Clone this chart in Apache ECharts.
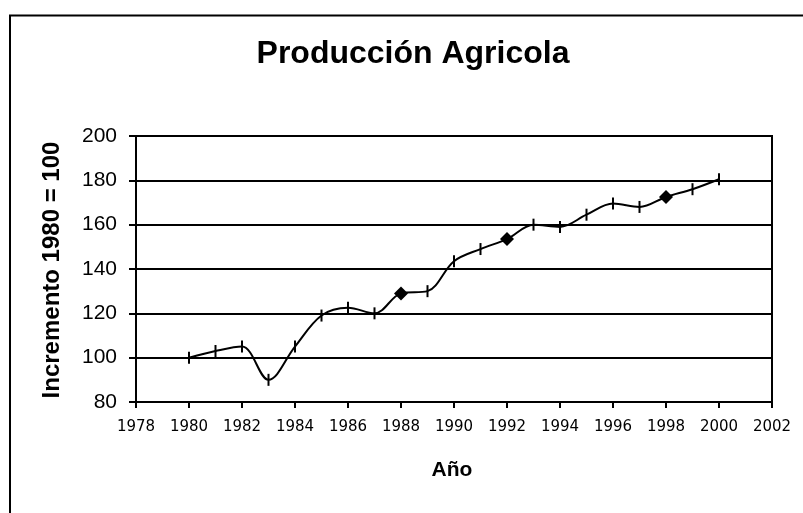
<!DOCTYPE html>
<html>
<head>
<meta charset="utf-8">
<script src="https://cdn.jsdelivr.net/npm/echarts@6/dist/echarts.min.js"></script>
<style>
html,body{margin:0;padding:0;background:#fff;}
#c{width:803px;height:513px;}
</style>
</head>
<body>
<div id="c"></div>
<script>
const years = [1980,1981,1982,1983,1984,1985,1986,1987,1988,1989,1990,1991,1992,1993,1994,1995,1996,1997,1998,1999,2000];
const values = [100,103,105,90,105,119,122.5,120,129,130,143.5,149,153.5,160,159,164.5,169.5,168,172.5,176,180.5];
const diamondYears = [1988,1992,1998];
const titleText = 'Producción Agricola';
const yTitle = 'Incremento 1980 = 100';
const xTitle = 'Año';

const chart = echarts.init(document.getElementById('c'), null, {renderer:'canvas'});
const data = years.map((y,i) => {
  const isD = diamondYears.indexOf(y) >= 0;
  return {
    value: [y, values[i]],
    symbol: isD ? 'diamond' : 'rect',
    symbolSize: isD ? [14,14] : [2,12]
  };
});
chart.setOption({
  animation:false,
  backgroundColor:'#fff',
  graphic:[
    {type:'rect', shape:{x:10,y:15.5,width:850,height:600}, style:{fill:'none',stroke:'#000',lineWidth:2}, z:-1},
    {type:'text', x:413, y:54, style:{text:titleText, font:'bold 32px "Liberation Sans", Arial', fill:'#000', textAlign:'center', textVerticalAlign:'middle'}},
    {type:'text', x:52, y:270, rotation:Math.PI/2, style:{text:yTitle, font:'bold 24px "Liberation Sans", Arial', fill:'#000', textAlign:'center', textVerticalAlign:'middle'}},
    {type:'text', x:452, y:470, style:{text:xTitle, font:'bold 21px "Liberation Sans", Arial', fill:'#000', textAlign:'center', textVerticalAlign:'middle'}}
  ],
  grid:{left:136,right:31,top:136,bottom:111,show:true,borderColor:'#000',borderWidth:2,backgroundColor:'transparent'},
  xAxis:{
    type:'value', min:1978, max:2002, interval:2,
    axisLine:{lineStyle:{color:'#000',width:2}},
    axisTick:{show:true,length:6,lineStyle:{color:'#000',width:2}},
    axisLabel:{color:'#000',fontFamily:'"DejaVu Sans"',fontSize:15,margin:18,formatter:v=>String(v)},
    splitLine:{show:false}
  },
  yAxis:{
    type:'value', min:80, max:200, interval:20,
    axisLine:{show:true,lineStyle:{color:'#000',width:2}},
    axisTick:{show:true,length:7,lineStyle:{color:'#000',width:2}},
    axisLabel:{color:'#000',fontFamily:'"Liberation Sans", Arial',fontSize:21,margin:19},
    splitLine:{show:true,lineStyle:{color:'#000',width:2}}
  },
  series:[{
    type:'line',
    data:data,
    smooth:0.35,
    lineStyle:{color:'#000',width:2},
    itemStyle:{color:'#000',borderWidth:0},
    showAllSymbol:true
  }]
});
</script>
</body>
</html>
